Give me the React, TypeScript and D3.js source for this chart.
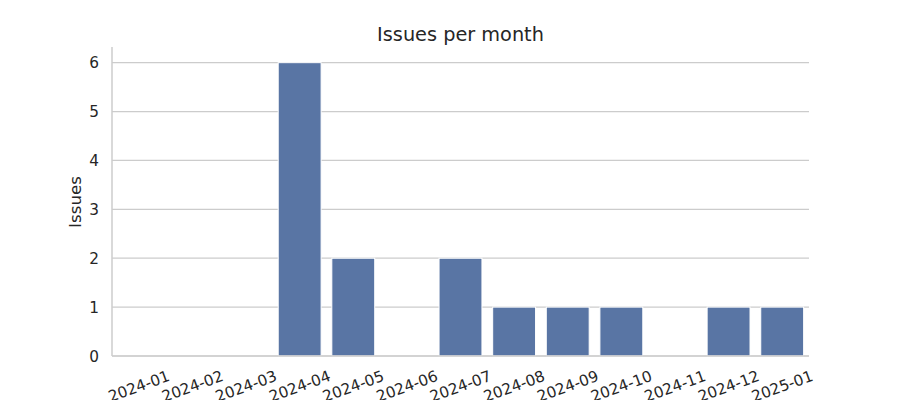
import React from "react";
import * as d3 from "d3";

const months = ["2024-01","2024-02","2024-03","2024-04","2024-05","2024-06","2024-07","2024-08","2024-09","2024-10","2024-11","2024-12","2025-01"];
const issues = [0,0,0,6,2,0,2,1,1,1,0,1,1];
const yTicks = [0,1,2,3,4,5,6];

const W = 900, H = 400;
const left = 112, right = 809, top = 48, bottom = 356;
const font = "DejaVu Sans, sans-serif";

export default function App() {
  const x = d3.scaleBand<string>().domain(months).range([left, right]).paddingInner(0.2).paddingOuter(0.1);
  const xc = d3.scaleBand<string>().domain(months).range([left, right]);
  const y = d3.scaleLinear().domain([0, 6.3]).range([bottom, top]);
  return (
    <svg width={W} height={H} style={{ position: "absolute", left: 0, top: 0 }}>
      <rect width={W} height={H} fill="#fff" />
      {yTicks.map(t => (
        <g key={t}>
          <line x1={left} x2={right} y1={y(t)} y2={y(t)} stroke="#cccccc" strokeWidth={1.2} />
          <text x={left - 13} y={y(t)} dy="0.36em" textAnchor="end" fontFamily={font} fontSize={15.3} fill="#262626">{t}</text>
        </g>
      ))}
      {months.map((m, i) => (
        <rect key={m} x={x(m)} y={y(issues[i])} width={x.bandwidth()} height={bottom - y(issues[i])}
          fill="#5975a4" stroke="#ffffff" strokeWidth={1} />
      ))}
      <line x1={left} x2={left} y1={top - 1} y2={bottom} stroke="#cccccc" strokeWidth={1.5} />
      <line x1={left} x2={right} y1={bottom} y2={bottom} stroke="#cccccc" strokeWidth={1.5} />
      {months.map(m => {
        const cx = (xc(m) as number) + xc.bandwidth() / 2;
        const cy = 386;
        return (
          <text key={m} x={cx} y={cy} dy="0.36em" textAnchor="middle" fontFamily={font} fontSize={15.3} fill="#262626"
            transform={`rotate(-20, ${cx}, ${cy})`}>{m}</text>
        );
      })}
      <text x={0} y={0} transform={`translate(81, ${(top + bottom) / 2}) rotate(-90)`} textAnchor="middle" fontFamily={font} fontSize={16.7} fill="#262626">Issues</text>
      <text x={(left + right) / 2} y={41} textAnchor="middle" fontFamily={font} fontSize={19.3} fill="#262626">Issues per month</text>
    </svg>
  );
}
